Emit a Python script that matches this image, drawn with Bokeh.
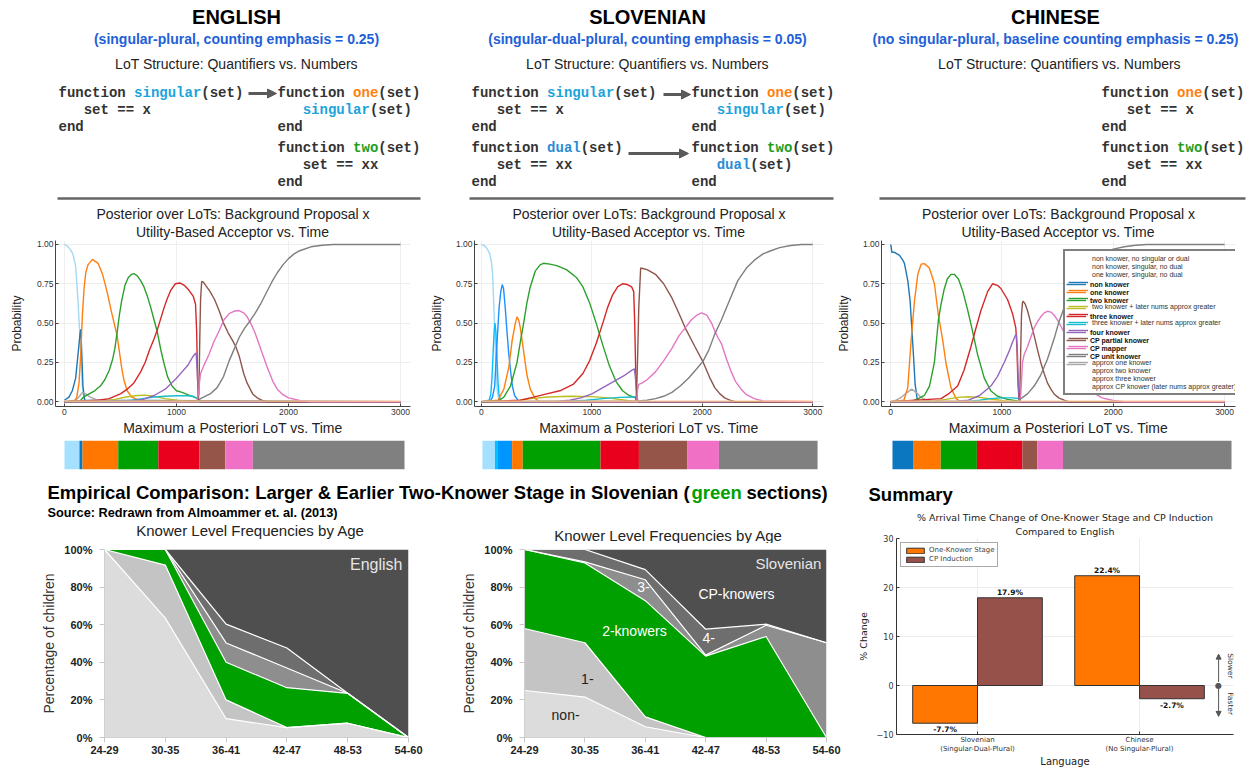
import math
from bokeh.plotting import figure
from bokeh.models import (Range1d, Title, FixedTicker, PrintfTickFormatter, ColumnDataSource,
                          Arrow, NormalHead, Label, Legend, LegendItem)
from bokeh.layouts import row, column
from bokeh.core.properties import value
from bokeh.transform import dodge
from bokeh.embed import file_html
from bokeh.resources import INLINE

# ======================= DATA =======================
LOT_NAMES = [
    "non knower, no singular or dual", "non knower, singular, no dual",
    "one knower, singular, no dual", "non knower", "one knower", "two knower",
    "two knower + later nums approx greater", "three knower",
    "three knower + later nums approx greater", "four knower", "CP partial knower",
    "CP mapper", "CP unit knower", "approx one knower", "approx two knower",
    "approx three knower", "approx CP knower (later nums approx greater)",
]
CORE_LOTS = ["non knower", "one knower", "two knower", "three knower", "four knower",
             "CP partial knower", "CP mapper", "CP unit knower"]

# ---- English posterior curves (time, probability) ----
EN_NONE_NSD = ([0, 25, 50, 75, 100, 120, 143, 158, 175, 200, 3000],
               [1.0, 0.99, 0.97, 0.94, 0.86, 0.65, 0.34, 0.11, 0.02, 0.0, 0.0])
EN_NON = ([0, 40, 70, 100, 125, 140, 146, 155, 165, 180, 3000],
          [0.01, 0.03, 0.07, 0.15, 0.33, 0.44, 0.46, 0.3, 0.1, 0.01, 0.0])
EN_APX1 = ([0, 100, 140, 160, 190, 230, 280, 350, 3000],
           [0.0, 0.01, 0.04, 0.06, 0.05, 0.03, 0.015, 0.0, 0.0])
EN_ONE = ([0, 90, 110, 130, 145, 160, 175, 190, 210, 250, 300, 340, 380, 420, 450, 470, 490, 510, 530, 560, 600, 650, 700, 3000],
          [0, 0.005, 0.03, 0.12, 0.3, 0.55, 0.72, 0.82, 0.87, 0.905, 0.88, 0.81, 0.7, 0.57, 0.48, 0.42, 0.32, 0.22, 0.14, 0.07, 0.03, 0.015, 0.005, 0.0])
EN_TWO = ([0, 140, 170, 220, 270, 320, 360, 400, 430, 450, 470, 490, 510, 540, 570, 600, 620, 650, 680, 710, 740, 770, 800, 830, 860, 890, 920, 960, 1000, 1050, 1100, 1190, 1210, 3000],
          [0, 0.005, 0.03, 0.05, 0.07, 0.1, 0.14, 0.2, 0.27, 0.34, 0.44, 0.55, 0.64, 0.74, 0.79, 0.81, 0.815, 0.8, 0.77, 0.73, 0.67, 0.6, 0.52, 0.44, 0.33, 0.24, 0.16, 0.1, 0.07, 0.06, 0.045, 0.02, 0.0, 0.0])
EN_TWO_APX = ([0, 350, 450, 550, 650, 720, 800, 900, 1000, 1100, 3000],
              [0, 0.005, 0.015, 0.03, 0.04, 0.042, 0.035, 0.02, 0.01, 0.0, 0.0])
EN_THREE = ([0, 300, 400, 500, 560, 620, 680, 720, 760, 800, 830, 860, 890, 920, 950, 990, 1030, 1070, 1110, 1150, 1170, 1180, 1188, 1195, 1205, 3000],
            [0, 0.01, 0.02, 0.05, 0.08, 0.12, 0.19, 0.25, 0.33, 0.4, 0.46, 0.53, 0.6, 0.66, 0.71, 0.75, 0.755, 0.74, 0.71, 0.67, 0.62, 0.45, 0.15, 0.02, 0.0, 0.0])
EN_THREE_APX = ([0, 500, 600, 700, 800, 900, 1000, 1100, 1150, 1190, 1200, 3000],
                [0, 0.003, 0.01, 0.02, 0.03, 0.035, 0.038, 0.038, 0.035, 0.02, 0.0, 0.0])
EN_FOUR = ([0, 600, 700, 800, 900, 1000, 1050, 1100, 1140, 1165, 1175, 1185, 1195, 1205, 3000],
           [0, 0.005, 0.015, 0.04, 0.08, 0.15, 0.19, 0.23, 0.28, 0.305, 0.31, 0.2, 0.03, 0.0, 0.0])
EN_CPP = ([0, 1190, 1200, 1208, 1215, 1225, 1240, 1270, 1300, 1340, 1380, 1420, 1460, 1500, 1530, 1560, 1600, 1630, 1680, 1720, 1760, 1800, 3000],
          [0, 0, 0.05, 0.4, 0.65, 0.765, 0.76, 0.73, 0.7, 0.65, 0.58, 0.5, 0.44, 0.39, 0.35, 0.29, 0.18, 0.12, 0.05, 0.025, 0.01, 0.0, 0.0])
EN_CPM = ([0, 1180, 1195, 1205, 1215, 1244, 1290, 1333, 1380, 1423, 1470, 1512, 1557, 1600, 1631, 1662, 1700, 1720, 1760, 1810, 1860, 1900, 1950, 2000, 2100, 2200, 3000],
          [0, 0, 0.05, 0.12, 0.18, 0.23, 0.3, 0.38, 0.45, 0.52, 0.56, 0.575, 0.58, 0.565, 0.54, 0.5, 0.44, 0.4, 0.32, 0.22, 0.13, 0.08, 0.045, 0.025, 0.008, 0.0, 0.0])
EN_CPU = ([0, 1195, 1214, 1300, 1363, 1420, 1470, 1512, 1560, 1610, 1662, 1700, 1750, 1800, 1850, 1900, 1950, 2000, 2050, 2100, 2200, 2300, 2400, 3000],
          [0, 0.005, 0.02, 0.05, 0.09, 0.16, 0.26, 0.33, 0.41, 0.47, 0.52, 0.56, 0.62, 0.69, 0.76, 0.82, 0.87, 0.91, 0.94, 0.96, 0.985, 0.995, 1.0, 1.0])
EN_BASE = ([0, 3000], [0.004, 0.004])

# ---- Slovenian posterior curves ----
SL_NONE_NSD = ([0, 30, 54, 75, 90, 100, 110, 120, 130, 143, 155, 170, 3000],
               [1.0, 0.99, 0.97, 0.94, 0.89, 0.82, 0.65, 0.45, 0.25, 0.07, 0.02, 0.0, 0.0])
SL_NON_SG = ([0, 70, 85, 95, 105, 115, 122, 130, 140, 150, 160, 175, 3000],
             [0, 0.01, 0.05, 0.15, 0.3, 0.45, 0.5, 0.45, 0.3, 0.12, 0.04, 0.0, 0.0])
SL_ONE_SG = ([0, 80, 100, 120, 143, 160, 175, 188, 200, 215, 233, 248, 263, 280, 300, 330, 360, 3000],
             [0, 0.005, 0.03, 0.1, 0.4, 0.6, 0.7, 0.745, 0.72, 0.6, 0.43, 0.3, 0.2, 0.1, 0.04, 0.01, 0.0, 0.0])
SL_ONE = ([0, 150, 203, 248, 278, 307, 322, 337, 352, 382, 412, 442, 487, 530, 3000],
          [0, 0.01, 0.08, 0.22, 0.39, 0.5, 0.54, 0.52, 0.47, 0.32, 0.17, 0.08, 0.02, 0.0, 0.0])
SL_TWO = ([0, 150, 203, 263, 322, 352, 382, 412, 442, 487, 531, 561, 620, 681, 770, 860, 919, 979, 1039, 1099, 1158, 1218, 1278, 1337, 1397, 1420, 3000],
          [0, 0.005, 0.03, 0.1, 0.25, 0.38, 0.5, 0.63, 0.73, 0.83, 0.87, 0.88, 0.875, 0.865, 0.84, 0.79, 0.73, 0.63, 0.5, 0.36, 0.23, 0.13, 0.07, 0.04, 0.025, 0.0, 0.0])
SL_TWO_APX = ([0, 300, 450, 600, 800, 1000, 1150, 1300, 1400, 3000],
              [0, 0.005, 0.02, 0.03, 0.035, 0.033, 0.025, 0.01, 0.0, 0.0])
SL_THREE = ([0, 352, 472, 591, 710, 830, 919, 979, 1039, 1099, 1143, 1188, 1233, 1278, 1322, 1361, 1379, 1388, 1397, 1409, 1420, 3000],
            [0, 0.01, 0.03, 0.05, 0.07, 0.11, 0.18, 0.26, 0.37, 0.5, 0.6, 0.68, 0.73, 0.75, 0.745, 0.73, 0.7, 0.5, 0.2, 0.02, 0.0, 0.0])
SL_THREE_APX = ([0, 800, 950, 1100, 1250, 1380, 1400, 1420, 3000],
                [0, 0.003, 0.01, 0.02, 0.028, 0.03, 0.03, 0.0, 0.0])
SL_FOUR = ([0, 700, 800, 900, 1000, 1100, 1200, 1300, 1360, 1385, 1395, 1405, 1420, 3000],
           [0, 0.003, 0.01, 0.025, 0.05, 0.09, 0.13, 0.17, 0.2, 0.21, 0.15, 0.03, 0.0, 0.0])
SL_CPP = ([0, 1395, 1405, 1415, 1425, 1442, 1500, 1576, 1650, 1725, 1790, 1845, 1934, 2009, 2070, 2113, 2160, 2203, 2260, 2300, 3000],
          [0, 0, 0.05, 0.3, 0.6, 0.85, 0.84, 0.81, 0.75, 0.66, 0.56, 0.47, 0.35, 0.25, 0.15, 0.09, 0.05, 0.025, 0.008, 0.0, 0.0])
SL_CPM = ([0, 1405, 1415, 1425, 1457, 1500, 1576, 1650, 1725, 1790, 1845, 1900, 1950, 1994, 2040, 2084, 2113, 2140, 2173, 2220, 2263, 2300, 2352, 2400, 2470, 2550, 3000],
          [0, 0, 0.08, 0.11, 0.12, 0.14, 0.19, 0.26, 0.34, 0.42, 0.47, 0.52, 0.55, 0.565, 0.55, 0.5, 0.45, 0.41, 0.37, 0.27, 0.19, 0.13, 0.08, 0.045, 0.02, 0.005, 0.0])
SL_CPU = ([0, 1420, 1500, 1576, 1650, 1725, 1800, 1875, 1950, 2009, 2060, 2113, 2173, 2250, 2322, 2400, 2472, 2550, 2621, 2700, 2800, 2900, 3000],
          [0, 0.005, 0.01, 0.02, 0.035, 0.06, 0.1, 0.15, 0.21, 0.26, 0.33, 0.43, 0.52, 0.65, 0.77, 0.85, 0.9, 0.94, 0.96, 0.98, 0.993, 1.0, 1.0])
SL_BASE = ([0, 3000], [0.004, 0.004])

# ---- Chinese posterior curves ----
ZH_NON = ([0, 5, 12, 36, 81, 110, 125, 155, 176, 191, 209, 221, 239, 260, 3000],
          [1.0, 0.99, 0.95, 0.95, 0.93, 0.9, 0.88, 0.77, 0.64, 0.47, 0.26, 0.11, 0.02, 0.0, 0.0])
ZH_APX1 = ([0, 50, 100, 150, 190, 230, 270, 320, 380, 3000],
           [0, 0.01, 0.03, 0.06, 0.08, 0.06, 0.03, 0.01, 0.0, 0.0])
ZH_ONE = ([0, 120, 155, 185, 215, 245, 275, 304, 349, 394, 430, 469, 499, 543, 588, 630, 3000],
          [0, 0.01, 0.09, 0.39, 0.64, 0.81, 0.875, 0.878, 0.85, 0.75, 0.55, 0.39, 0.24, 0.09, 0.02, 0.0, 0.0])
ZH_TWO = ([0, 200, 250, 304, 350, 394, 430, 454, 480, 510, 543, 573, 610, 650, 690, 730, 782, 842, 900, 960, 1051, 1140, 1160, 3000],
          [0, 0.005, 0.02, 0.04, 0.1, 0.25, 0.52, 0.62, 0.71, 0.78, 0.81, 0.81, 0.78, 0.7, 0.59, 0.47, 0.3, 0.15, 0.07, 0.035, 0.015, 0.005, 0.0, 0.0])
ZH_TWO_APX = ([0, 400, 500, 600, 700, 800, 900, 1000, 1100, 3000],
              [0, 0.005, 0.015, 0.028, 0.032, 0.028, 0.018, 0.008, 0.0, 0.0])
ZH_THREE = ([0, 454, 520, 603, 660, 722, 760, 812, 872, 916, 960, 991, 1051, 1096, 1125, 1135, 1143, 1152, 1165, 3000],
            [0, 0.02, 0.05, 0.1, 0.2, 0.35, 0.45, 0.58, 0.7, 0.75, 0.74, 0.72, 0.65, 0.56, 0.47, 0.35, 0.15, 0.03, 0.0, 0.0])
ZH_THREE_APX = ([0, 700, 800, 900, 1000, 1100, 1150, 1170, 3000],
                [0, 0.003, 0.01, 0.02, 0.025, 0.025, 0.02, 0.0, 0.0])
ZH_FOUR = ([0, 600, 700, 800, 901, 960, 1021, 1070, 1096, 1120, 1131, 1140, 1148, 1158, 3000],
           [0, 0.003, 0.01, 0.04, 0.1, 0.16, 0.25, 0.33, 0.38, 0.42, 0.43, 0.3, 0.1, 0.0, 0.0])
ZH_CPP = ([0, 1155, 1161, 1170, 1176, 1185, 1191, 1210, 1230, 1260, 1290, 1320, 1349, 1380, 1409, 1440, 1469, 1510, 1558, 1600, 3000],
          [0, 0, 0.05, 0.35, 0.55, 0.63, 0.64, 0.62, 0.58, 0.5, 0.42, 0.33, 0.25, 0.18, 0.12, 0.08, 0.05, 0.025, 0.01, 0.0, 0.0])
ZH_CPM = ([0, 1160, 1170, 1185, 1200, 1230, 1260, 1290, 1320, 1349, 1380, 1409, 1440, 1470, 1499, 1530, 1560, 1588, 1620, 1650, 1700, 1750, 1800, 1850, 1900, 2000, 2100, 3000],
          [0, 0, 0.05, 0.25, 0.3, 0.35, 0.41, 0.47, 0.51, 0.54, 0.565, 0.575, 0.57, 0.55, 0.52, 0.48, 0.44, 0.4, 0.35, 0.3, 0.21, 0.14, 0.08, 0.045, 0.025, 0.008, 0.0, 0.0])
ZH_CPU = ([0, 1160, 1170, 1230, 1290, 1349, 1409, 1469, 1509, 1550, 1600, 1650, 1700, 1800, 1900, 2000, 2100, 2200, 2300, 3000],
          [0, 0, 0.02, 0.05, 0.1, 0.17, 0.27, 0.4, 0.5, 0.58, 0.67, 0.74, 0.8, 0.89, 0.94, 0.97, 0.985, 0.995, 1.0, 1.0])
ZH_BASE = ([0, 3000], [0.004, 0.004])

EN_SERIES = [("non knower, no singular or dual", EN_NONE_NSD), ("non knower", EN_NON),
             ("approx one knower", EN_APX1), ("one knower", EN_ONE), ("two knower", EN_TWO),
             ("two knower + later nums approx greater", EN_TWO_APX),
             ("three knower + later nums approx greater", EN_THREE_APX), ("three knower", EN_THREE),
             ("four knower", EN_FOUR), ("CP partial knower", EN_CPP), ("CP mapper", EN_CPM),
             ("CP unit knower", EN_CPU), ("baseline", EN_BASE)]
SL_SERIES = [("non knower, no singular or dual", SL_NONE_NSD), ("non knower, singular, no dual", SL_NON_SG),
             ("one knower, singular, no dual", SL_ONE_SG), ("one knower", SL_ONE), ("two knower", SL_TWO),
             ("two knower + later nums approx greater", SL_TWO_APX),
             ("three knower + later nums approx greater", SL_THREE_APX), ("three knower", SL_THREE),
             ("four knower", SL_FOUR), ("CP partial knower", SL_CPP), ("CP mapper", SL_CPM),
             ("CP unit knower", SL_CPU), ("baseline", SL_BASE)]
ZH_SERIES = [("non knower", ZH_NON), ("approx one knower", ZH_APX1), ("one knower", ZH_ONE),
             ("two knower", ZH_TWO), ("two knower + later nums approx greater", ZH_TWO_APX),
             ("three knower + later nums approx greater", ZH_THREE_APX), ("three knower", ZH_THREE),
             ("four knower", ZH_FOUR), ("CP partial knower", ZH_CPP), ("CP mapper", ZH_CPM),
             ("CP unit knower", ZH_CPU), ("baseline", ZH_BASE)]

# ---- MAP LoT segments (time boundaries) ----
EN_MAP_EDGES = [0, 132, 159, 474, 828, 1191, 1419, 1662, 3000]
EN_MAP_LOTS = ["non knower, no singular or dual", "non knower", "one knower", "two knower",
               "three knower", "CP partial knower", "CP mapper", "CP unit knower"]
SL_MAP_EDGES = [0, 112, 139, 266, 361, 1057, 1401, 1836, 2117, 3000]
SL_MAP_LOTS = ["non knower, no singular or dual", "non knower, singular, no dual",
               "one knower, singular, no dual", "one knower", "two knower", "three knower",
               "CP partial knower", "CP mapper", "CP unit knower"]
ZH_MAP_EDGES = [0, 182, 427, 747, 1150, 1282, 1509, 3000]
ZH_MAP_LOTS = ["non knower", "one knower", "two knower", "three knower",
               "CP partial knower", "CP mapper", "CP unit knower"]

# ---- Empirical knower-level frequencies (% of children per level) ----
AGE_GROUPS = ["24-29", "30-35", "36-41", "42-47", "48-53", "54-60"]
KNOWER_LEVELS = ["non", "one", "two", "three", "four", "cp"]
EN_K_NON = [100, 63.5, 10, 5.3, 7.6, 0]
EN_K_ONE = [0, 28.2, 10, 0, 0, 0]
EN_K_TWO = [0, 8.3, 20, 21.2, 15.9, 0]
EN_K_THREE = [0, 0, 10.3, 10.5, 0, 0]
EN_K_FOUR = [0, 0, 10, 10.6, 0, 0]
EN_K_CP = [0, 0, 39.7, 52.4, 76.5, 100]
SL_K_NON = [25, 21.5, 5.7, 0, 0, 0]
SL_K_ONE = [33, 28.9, 5.3, 0, 0, 0]
SL_K_TWO = [42, 42.4, 61.8, 43.3, 53.7, 0]
SL_K_THREE = [0, 0.6, 11.1, 0.5, 6.0, 50.4]
SL_K_FOUR = [0, 6.6, 5.4, 13.8, 0.6, 0]
SL_K_CP = [0, 0, 10.7, 42.4, 39.7, 49.6]

# ---- Summary ----
SUM_LANGS = ["Slovenian\n(Singular-Dual-Plural)", "Chinese\n(No Singular-Plural)"]
SUM_SERIES = ["One-Knower Stage", "CP Induction"]
SUM_ONE_KNOWER = [-7.7, 22.4]
SUM_CP_INDUCTION = [17.9, -2.7]

# ======================= STYLE =======================
SANS = "Liberation Sans"
MONO = "Liberation Mono"
DJ = "DejaVu Sans"

LINE_COLORS = {
    "non knower, no singular or dual": "#a3d8f5", "non knower, singular, no dual": "#00bfff",
    "one knower, singular, no dual": "#1e90ff", "non knower": "#1f77b4", "one knower": "#ff7f0e",
    "two knower": "#2ca02c", "two knower + later nums approx greater": "#bcbd22",
    "three knower": "#d62728", "three knower + later nums approx greater": "#17becf",
    "four knower": "#9467bd", "CP partial knower": "#8c564b", "CP mapper": "#e377c2",
    "CP unit knower": "#7f7f7f", "approx one knower": "#a9a9a9", "approx two knower": "#c8c8c8",
    "approx three knower": "#dcdcdc", "approx CP knower (later nums approx greater)": "#eeeeee",
    "baseline": "#fcc890",
}
BAR_COLORS = {
    "non knower, no singular or dual": "#a6e0ff", "non knower, singular, no dual": "#00bfff",
    "one knower, singular, no dual": "#0096ff", "non knower": "#0a77c0", "one knower": "#ff7700",
    "two knower": "#00a000", "three knower": "#e8001c", "CP partial knower": "#955548",
    "CP mapper": "#f070c6", "CP unit knower": "#808080",
}
AREA_COLORS = ["#dcdcdc", "#c4c4c4", "#00a000", "#8e8e8e", "#6e6e6e", "#4f4f4f"]
CODE_DARK = "#333333"
C_BLUE = "#1ba3dc"
C_DUAL = "#2b8cd6"
C_ORANGE = "#ff7f0e"
C_GREEN = "#1e9e1e"
SUB_BLUE = "#2160d8"
ARROW_C = "#5a5a5a"
CW = 8.4  # monospace advance at 14px


def canvas(w, h):
    f = figure(width=w, height=h, x_range=Range1d(0, w), y_range=Range1d(h, 0),
               x_axis_type=None, y_axis_type=None, output_backend="svg",
               toolbar_location=None, min_border=0, title=None)
    f.outline_line_color = None
    return f


def txt(f, x, y, s, size, color="#000000", font=SANS, style="normal", align="left"):
    f.text(x=[x], y=[y], text=[s], text_font=value(font), text_font_size=value(size),
           text_font_style=style, text_color=color, text_align=align, text_baseline="middle")


def code(f, x0, y, segs, indent=0):
    x = x0 + indent * CW
    for s, col in segs:
        txt(f, x, y, s, "14px", color=col, font=MONO, style="bold")
        x += len(s) * CW


def arrow(f, x0, y0, x1, y1):
    f.add_layout(Arrow(end=NormalHead(size=9, fill_color=ARROW_C, line_color=ARROW_C),
                       x_start=x0, y_start=y0, x_end=x1, y_end=y1,
                       line_color=ARROW_C, line_width=3))


# ======================= TOP HEADER =======================
top = canvas(1249, 200)
for name, sub, cx, lcx in [("ENGLISH", "(singular-plural, counting emphasis = 0.25)", 236, 236),
                           ("SLOVENIAN", "(singular-dual-plural, counting emphasis = 0.05)", 647, 647),
                           ("CHINESE", "(no singular-plural, baseline counting emphasis = 0.25)", 1055, 1059)]:
    txt(top, cx, 16, name, "20px", style="bold", align="center")
    txt(top, cx, 38, sub, "14px", color=SUB_BLUE, style="bold", align="center")
    txt(top, lcx, 63, "LoT Structure: Quantifiers vs. Numbers", "14px", color="#222222", align="center")

L1, L2, L3, L4, L5, L6 = 92, 109, 126, 147, 164, 181
D = CODE_DARK
# English
code(top, 58, L1, [("function ", D), ("singular", C_BLUE), ("(set)", D)])
code(top, 58, L2, [("set == x", D)], 3)
code(top, 58, L3, [("end", D)])
code(top, 277, L1, [("function ", D), ("one", C_ORANGE), ("(set)", D)])
code(top, 277, L2, [("singular", C_BLUE), ("(set)", D)], 3)
code(top, 277, L3, [("end", D)])
code(top, 277, L4, [("function ", D), ("two", C_GREEN), ("(set)", D)])
code(top, 277, L5, [("set == xx", D)], 3)
code(top, 277, L6, [("end", D)])
arrow(top, 248, 93, 276, 93)
# Slovenian
code(top, 471, L1, [("function ", D), ("singular", C_BLUE), ("(set)", D)])
code(top, 471, L2, [("set == x", D)], 3)
code(top, 471, L3, [("end", D)])
code(top, 471, L4, [("function ", D), ("dual", C_DUAL), ("(set)", D)])
code(top, 471, L5, [("set == xx", D)], 3)
code(top, 471, L6, [("end", D)])
code(top, 691, L1, [("function ", D), ("one", C_ORANGE), ("(set)", D)])
code(top, 691, L2, [("singular", C_BLUE), ("(set)", D)], 3)
code(top, 691, L3, [("end", D)])
code(top, 691, L4, [("function ", D), ("two", C_GREEN), ("(set)", D)])
code(top, 691, L5, [("dual", C_DUAL), ("(set)", D)], 3)
code(top, 691, L6, [("end", D)])
arrow(top, 663, 94, 690, 94)
arrow(top, 628, 153, 688, 153)
# Chinese
code(top, 1101, L1, [("function ", D), ("one", C_ORANGE), ("(set)", D)])
code(top, 1101, L2, [("set == x", D)], 3)
code(top, 1101, L3, [("end", D)])
code(top, 1101, L4, [("function ", D), ("two", C_GREEN), ("(set)", D)])
code(top, 1101, L5, [("set == xx", D)], 3)
code(top, 1101, L6, [("end", D)])
top.segment(x0=[57, 469, 879], y0=[198, 198, 198], x1=[420, 833, 1245], y1=[198, 198, 198],
            line_color="#666666", line_width=2.5)


# ======================= POSTERIOR PLOTS =======================
def posterior(width, bl, br, xr, lab_standoff, series):
    p = figure(width=width, height=236, x_range=Range1d(*xr), y_range=Range1d(-0.03, 1.025),
               output_backend="svg", toolbar_location=None, title=None,
               min_border_left=bl, min_border_right=br, min_border_top=40, min_border_bottom=30)
    p.add_layout(Title(text="Utility-Based Acceptor vs. Time", align="center", text_font=SANS,
                       text_font_size="14px", text_font_style="normal", text_color="#222222",
                       standoff=1), "above")
    p.add_layout(Title(text="Posterior over LoTs: Background Proposal x", align="center",
                       text_font=SANS, text_font_size="14px", text_font_style="normal",
                       text_color="#222222", standoff=0), "above")
    p.add_layout(Title(text="Maximum a Posteriori LoT vs. Time", align="center", text_font=SANS,
                       text_font_size="14px", text_font_style="normal", text_color="#222222",
                       standoff=1), "below")
    rs = {}
    for name, (t, v) in series:
        rs[name] = p.line(t, v, line_color=LINE_COLORS[name], line_width=1.4)
    p.xaxis.ticker = FixedTicker(ticks=[0, 1000, 2000, 3000])
    p.yaxis.ticker = FixedTicker(ticks=[0, 0.25, 0.5, 0.75, 1.0])
    p.yaxis.formatter = PrintfTickFormatter(format="%.2f")
    p.axis.axis_line_color = "#444444"
    p.axis.major_tick_line_color = "#444444"
    p.axis.major_tick_in = 3
    p.axis.major_tick_out = 0
    p.axis.minor_tick_line_color = None
    p.axis.major_label_text_font = SANS
    p.axis.major_label_text_font_size = "8.5px"
    p.axis.major_label_text_color = "#333333"
    p.axis.major_label_standoff = 2
    p.yaxis.axis_label = "Probability"
    p.yaxis.axis_label_text_font = SANS
    p.yaxis.axis_label_text_font_size = "12px"
    p.yaxis.axis_label_text_font_style = "normal"
    p.yaxis.axis_label_text_color = "#222222"
    p.yaxis.axis_label_standoff = lab_standoff
    p.grid.grid_line_color = "#eeeeee"
    p.outline_line_color = None
    return p, rs


def map_fig(width, bl, br, xr, edges, lots):
    p = figure(width=width, height=39, x_range=Range1d(*xr), y_range=Range1d(0, 1),
               x_axis_type=None, y_axis_type=None, output_backend="svg", toolbar_location=None,
               title=None, min_border_left=bl, min_border_right=br, min_border_top=4,
               min_border_bottom=6)
    src = ColumnDataSource(dict(left=edges[:-1], right=edges[1:],
                                color=[BAR_COLORS[n] for n in lots]))
    p.quad(left="left", right="right", bottom=0, top=1, fill_color="color", line_color=None,
           source=src)
    p.outline_line_color = None
    return p


p_en, _ = posterior(426, 55, 16, (-80, 3089), 10, EN_SERIES)
p_sl, _ = posterior(407, 44, 10, (-63, 3098), 9, SL_SERIES)
p_zh, rs_zh = posterior(416, 47, 14, (-81, 3098), 9, ZH_SERIES)
for n in LOT_NAMES:
    if n not in rs_zh:
        rs_zh[n] = p_zh.line(x=[], y=[], line_color=LINE_COLORS[n], line_width=1.4)

LEG_KW = dict(location=(182, 11), label_text_font=SANS, label_text_font_size="7px",
              glyph_width=20, glyph_height=8, label_height=8, spacing=0,
              padding=3, margin=0, label_standoff=4, border_line_color="black",
              border_line_width=2)
# plain-weight labels (core LoT rows blank here)
leg_a = Legend(items=[LegendItem(label=(" " if n in CORE_LOTS else n), renderers=[rs_zh[n]])
                      for n in LOT_NAMES],
               label_text_color="#333333", background_fill_alpha=1.0, **LEG_KW)
# bold labels for the core LoTs, same geometry, drawn on top
leg_b = Legend(items=[LegendItem(label=(n if n in CORE_LOTS else " "), renderers=[rs_zh[n]])
                      for n in LOT_NAMES],
               label_text_color="#111111", label_text_font_style="bold",
               background_fill_alpha=0.0, border_line_alpha=0.0, **LEG_KW)
p_zh.add_layout(leg_a)
p_zh.add_layout(leg_b)

m_en = map_fig(426, 55, 16, (-79.4, 3052.9), EN_MAP_EDGES, EN_MAP_LOTS)
m_sl = map_fig(407, 44, 10, (-70.8, 3053.1), SL_MAP_EDGES, SL_MAP_LOTS)
m_zh = map_fig(416, 47, 14, (-97.1, 3035.3), ZH_MAP_EDGES, ZH_MAP_LOTS)

# ======================= BOTTOM-LEFT HEADER =======================
hdr_l = canvas(850, 68)
txt(hdr_l, 47, 17, "Empirical Comparison: Larger & Earlier Two-Knower Stage in Slovenian (",
    "18.5px", style="bold")
txt(hdr_l, 691, 17, "green", "18.5px", color="#00a000", style="bold")
txt(hdr_l, 746, 17, "sections)", "18.5px", style="bold")
txt(hdr_l, 47, 37, "Source: Redrawn from Almoammer et. al. (2013)", "12.75px", style="bold")
txt(hdr_l, 250, 55, "Knower Level Frequencies by Age", "15px", color="#222222", align="center")
txt(hdr_l, 668, 59.5, "Knower Level Frequencies by Age", "15px", color="#222222", align="center")


# ======================= AREA CHARTS =======================
def area_fig(width, bl, br, levels, labels):
    p = figure(width=width, height=227, x_range=Range1d(0, len(AGE_GROUPS) - 1),
               y_range=Range1d(0, 100), output_backend="svg", toolbar_location=None, title=None,
               min_border_left=bl, min_border_right=br, min_border_top=6, min_border_bottom=33)
    data = dict(x=list(range(len(AGE_GROUPS))))
    data.update(levels)
    src = ColumnDataSource(data)
    p.varea_stack(stackers=KNOWER_LEVELS, x="x", color=AREA_COLORS, source=src)
    p.vline_stack(stackers=KNOWER_LEVELS[:-1], x="x", line_color="white", line_width=1.2,
                  source=src)
    for s, xi, yv, col, size in labels:
        p.add_layout(Label(x=xi, y=yv, text=s, text_align="center", text_baseline="middle",
                           text_font=SANS, text_font_size=size, text_color=col))
    p.xaxis.ticker = FixedTicker(ticks=list(range(len(AGE_GROUPS))))
    p.xaxis.major_label_overrides = {i: g for i, g in enumerate(AGE_GROUPS)}
    p.yaxis.ticker = FixedTicker(ticks=[0, 20, 40, 60, 80, 100])
    p.yaxis.formatter = PrintfTickFormatter(format="%d%%")
    p.axis.axis_line_color = "#d0d0d0"
    p.axis.major_tick_line_color = "#c8c8c8"
    p.axis.major_tick_in = 0
    p.axis.major_tick_out = 5
    p.axis.minor_tick_line_color = None
    p.axis.major_label_text_font = SANS
    p.axis.major_label_text_font_size = "11px"
    p.axis.major_label_text_font_style = "bold"
    p.axis.major_label_text_color = "#222222"
    p.xaxis.major_label_standoff = 3
    p.yaxis.major_label_standoff = 7
    p.yaxis.axis_label = "Percentage of children"
    p.yaxis.axis_label_text_font = SANS
    p.yaxis.axis_label_text_font_size = "14px"
    p.yaxis.axis_label_text_font_style = "normal"
    p.yaxis.axis_label_text_color = "#333333"
    p.yaxis.axis_label_standoff = 4
    p.grid.visible = False
    p.outline_line_color = None
    return p


EN_LEVELS = dict(non=EN_K_NON, one=EN_K_ONE, two=EN_K_TWO, three=EN_K_THREE, four=EN_K_FOUR, cp=EN_K_CP)
SL_LEVELS = dict(non=SL_K_NON, one=SL_K_ONE, two=SL_K_TWO, three=SL_K_THREE, four=SL_K_FOUR, cp=SL_K_CP)
a_en = area_fig(430, 104, 22, EN_LEVELS, [("English", 4.47, 92, "#e6e6e6", "16px")])
a_sl = area_fig(420, 94, 24, SL_LEVELS, [
    ("Slovenian", 4.37, 92.5, "#e6e6e6", "15px"), ("CP-knowers", 3.51, 76.3, "#ffffff", "14px"),
    ("2-knowers", 1.82, 56.4, "#ffffff", "14px"), ("3-", 1.97, 80, "#ffffff", "14px"),
    ("4-", 3.05, 52.7, "#ffffff", "14px"), ("1-", 1.04, 31, "#222222", "14px"),
    ("non-", 0.68, 11.8, "#222222", "14px")])

# ======================= SUMMARY BAR CHART =======================
ps = figure(width=399, height=295, x_range=Range1d(-0.5, 1.58), y_range=Range1d(-10, 30),
            output_backend="svg", toolbar_location=None, title=None,
            min_border_left=46, min_border_right=16, min_border_top=63, min_border_bottom=33)
ps.add_layout(Title(text="Compared to English", align="center", text_font=DJ,
                    text_font_size="9.5px", text_font_style="normal", text_color="#222222",
                    standoff=3), "above")
ps.add_layout(Title(text="% Arrival Time Change of One-Knower Stage and CP Induction",
                    align="center", text_font=DJ, text_font_size="9.5px",
                    text_font_style="normal", text_color="#222222", standoff=0), "above")
ps.add_layout(Title(text="Summary", align="left", offset=-28, text_font=SANS,
                    text_font_size="18.5px", text_font_style="bold", text_color="#000000",
                    standoff=9), "above")
sum_src = ColumnDataSource(dict(xi=list(range(len(SUM_LANGS))), one=SUM_ONE_KNOWER,
                                cp=SUM_CP_INDUCTION))
ps.vbar(x=dodge("xi", -0.2), top="one", bottom=0, width=0.4, fill_color="#ff7700",
        line_color="#333333", line_width=1, source=sum_src, legend_label=SUM_SERIES[0])
ps.vbar(x=dodge("xi", 0.2), top="cp", bottom=0, width=0.4, fill_color="#95514a",
        line_color="#333333", line_width=1, source=sum_src, legend_label=SUM_SERIES[1])
pos = dict(x=[], y=[], s=[])
neg = dict(x=[], y=[], s=[])
for i in range(len(SUM_LANGS)):
    for dx, vals in ((-0.2, SUM_ONE_KNOWER), (0.2, SUM_CP_INDUCTION)):
        d = pos if vals[i] >= 0 else neg
        d["x"].append(i + dx)
        d["y"].append(vals[i])
        d["s"].append(f"{vals[i]:.1f}%")
ps.text(x="x", y="y", text="s", source=ColumnDataSource(pos), text_align="center",
        text_baseline="bottom", y_offset=-1, text_font=value(DJ), text_font_size=value("7.5px"),
        text_font_style="bold", text_color="#111111")
ps.text(x="x", y="y", text="s", source=ColumnDataSource(neg), text_align="center",
        text_baseline="top", y_offset=2, text_font=value(DJ), text_font_size=value("7.5px"),
        text_font_style="bold", text_color="#111111")
ps.xaxis.ticker = FixedTicker(ticks=list(range(len(SUM_LANGS))))
ps.xaxis.major_label_overrides = {i: s for i, s in enumerate(SUM_LANGS)}
ps.yaxis.ticker = FixedTicker(ticks=[-10, 0, 10, 20, 30])
ps.yaxis.major_label_overrides = {-10: "\u221210"}
ps.axis.axis_line_color = "#333333"
ps.axis.major_tick_line_color = "#333333"
ps.axis.major_tick_in = 3
ps.axis.major_tick_out = 0
ps.axis.minor_tick_line_color = None
ps.axis.major_label_text_font = DJ
ps.yaxis.major_label_text_font_size = "8px"
ps.xaxis.major_label_text_font_size = "7px"
ps.axis.major_label_text_color = "#333333"
ps.yaxis.major_label_standoff = 3
ps.xaxis.major_label_standoff = 1
ps.xaxis.axis_label = "Language"
ps.yaxis.axis_label = "% Change"
ps.axis.axis_label_text_font = DJ
ps.axis.axis_label_text_font_style = "normal"
ps.axis.axis_label_text_color = "#222222"
ps.xaxis.axis_label_text_font_size = "10px"
ps.yaxis.axis_label_text_font_size = "9.5px"
ps.xaxis.axis_label_standoff = 0
ps.yaxis.axis_label_standoff = 5
ps.grid.grid_line_color = "#ececec"
ps.outline_line_color = None
ps.legend.location = "top_left"
ps.legend.margin = 4
ps.legend.padding = 3
ps.legend.spacing = 1
ps.legend.label_text_font = DJ
ps.legend.label_text_font_size = "7px"
ps.legend.label_height = 8
ps.legend.glyph_width = 22
ps.legend.glyph_height = 7
ps.legend.label_standoff = 3
ps.legend.border_line_color = "#555555"
ps.legend.background_fill_alpha = 1.0
# Slower / Faster indicator
ps.add_layout(Arrow(end=NormalHead(size=5, fill_color="#555555", line_color="#555555"),
                    x_start=1.488, y_start=0.7, x_end=1.488, y_end=6.4,
                    line_color="#555555", line_width=1))
ps.add_layout(Arrow(end=NormalHead(size=5, fill_color="#555555", line_color="#555555"),
                    x_start=1.488, y_start=-0.7, x_end=1.488, y_end=-6.3,
                    line_color="#555555", line_width=1))
ps.add_layout(Label(x=1.488, y=0, text="\u25cf", text_align="center", text_baseline="middle",
                    text_font=DJ, text_font_size="8px", text_color="#555555"))
ps.add_layout(Label(x=1.562, y=4.0, text="Slower", angle=-math.pi / 2,
                    text_align="center", text_baseline="middle", text_font=DJ,
                    text_font_size="7.5px", text_color="#333333"))
ps.add_layout(Label(x=1.562, y=-3.7, text="Faster", angle=-math.pi / 2,
                    text_align="center", text_baseline="middle", text_font=DJ,
                    text_font_size="7.5px", text_color="#333333"))

# ======================= LAYOUT =======================
layout = column(
    top,
    row(column(p_en, m_en), column(p_sl, m_sl), column(p_zh, m_zh)),
    row(column(hdr_l, row(a_en, a_sl)), ps),
)
open("out.html", "w").write(file_html(layout, INLINE))
